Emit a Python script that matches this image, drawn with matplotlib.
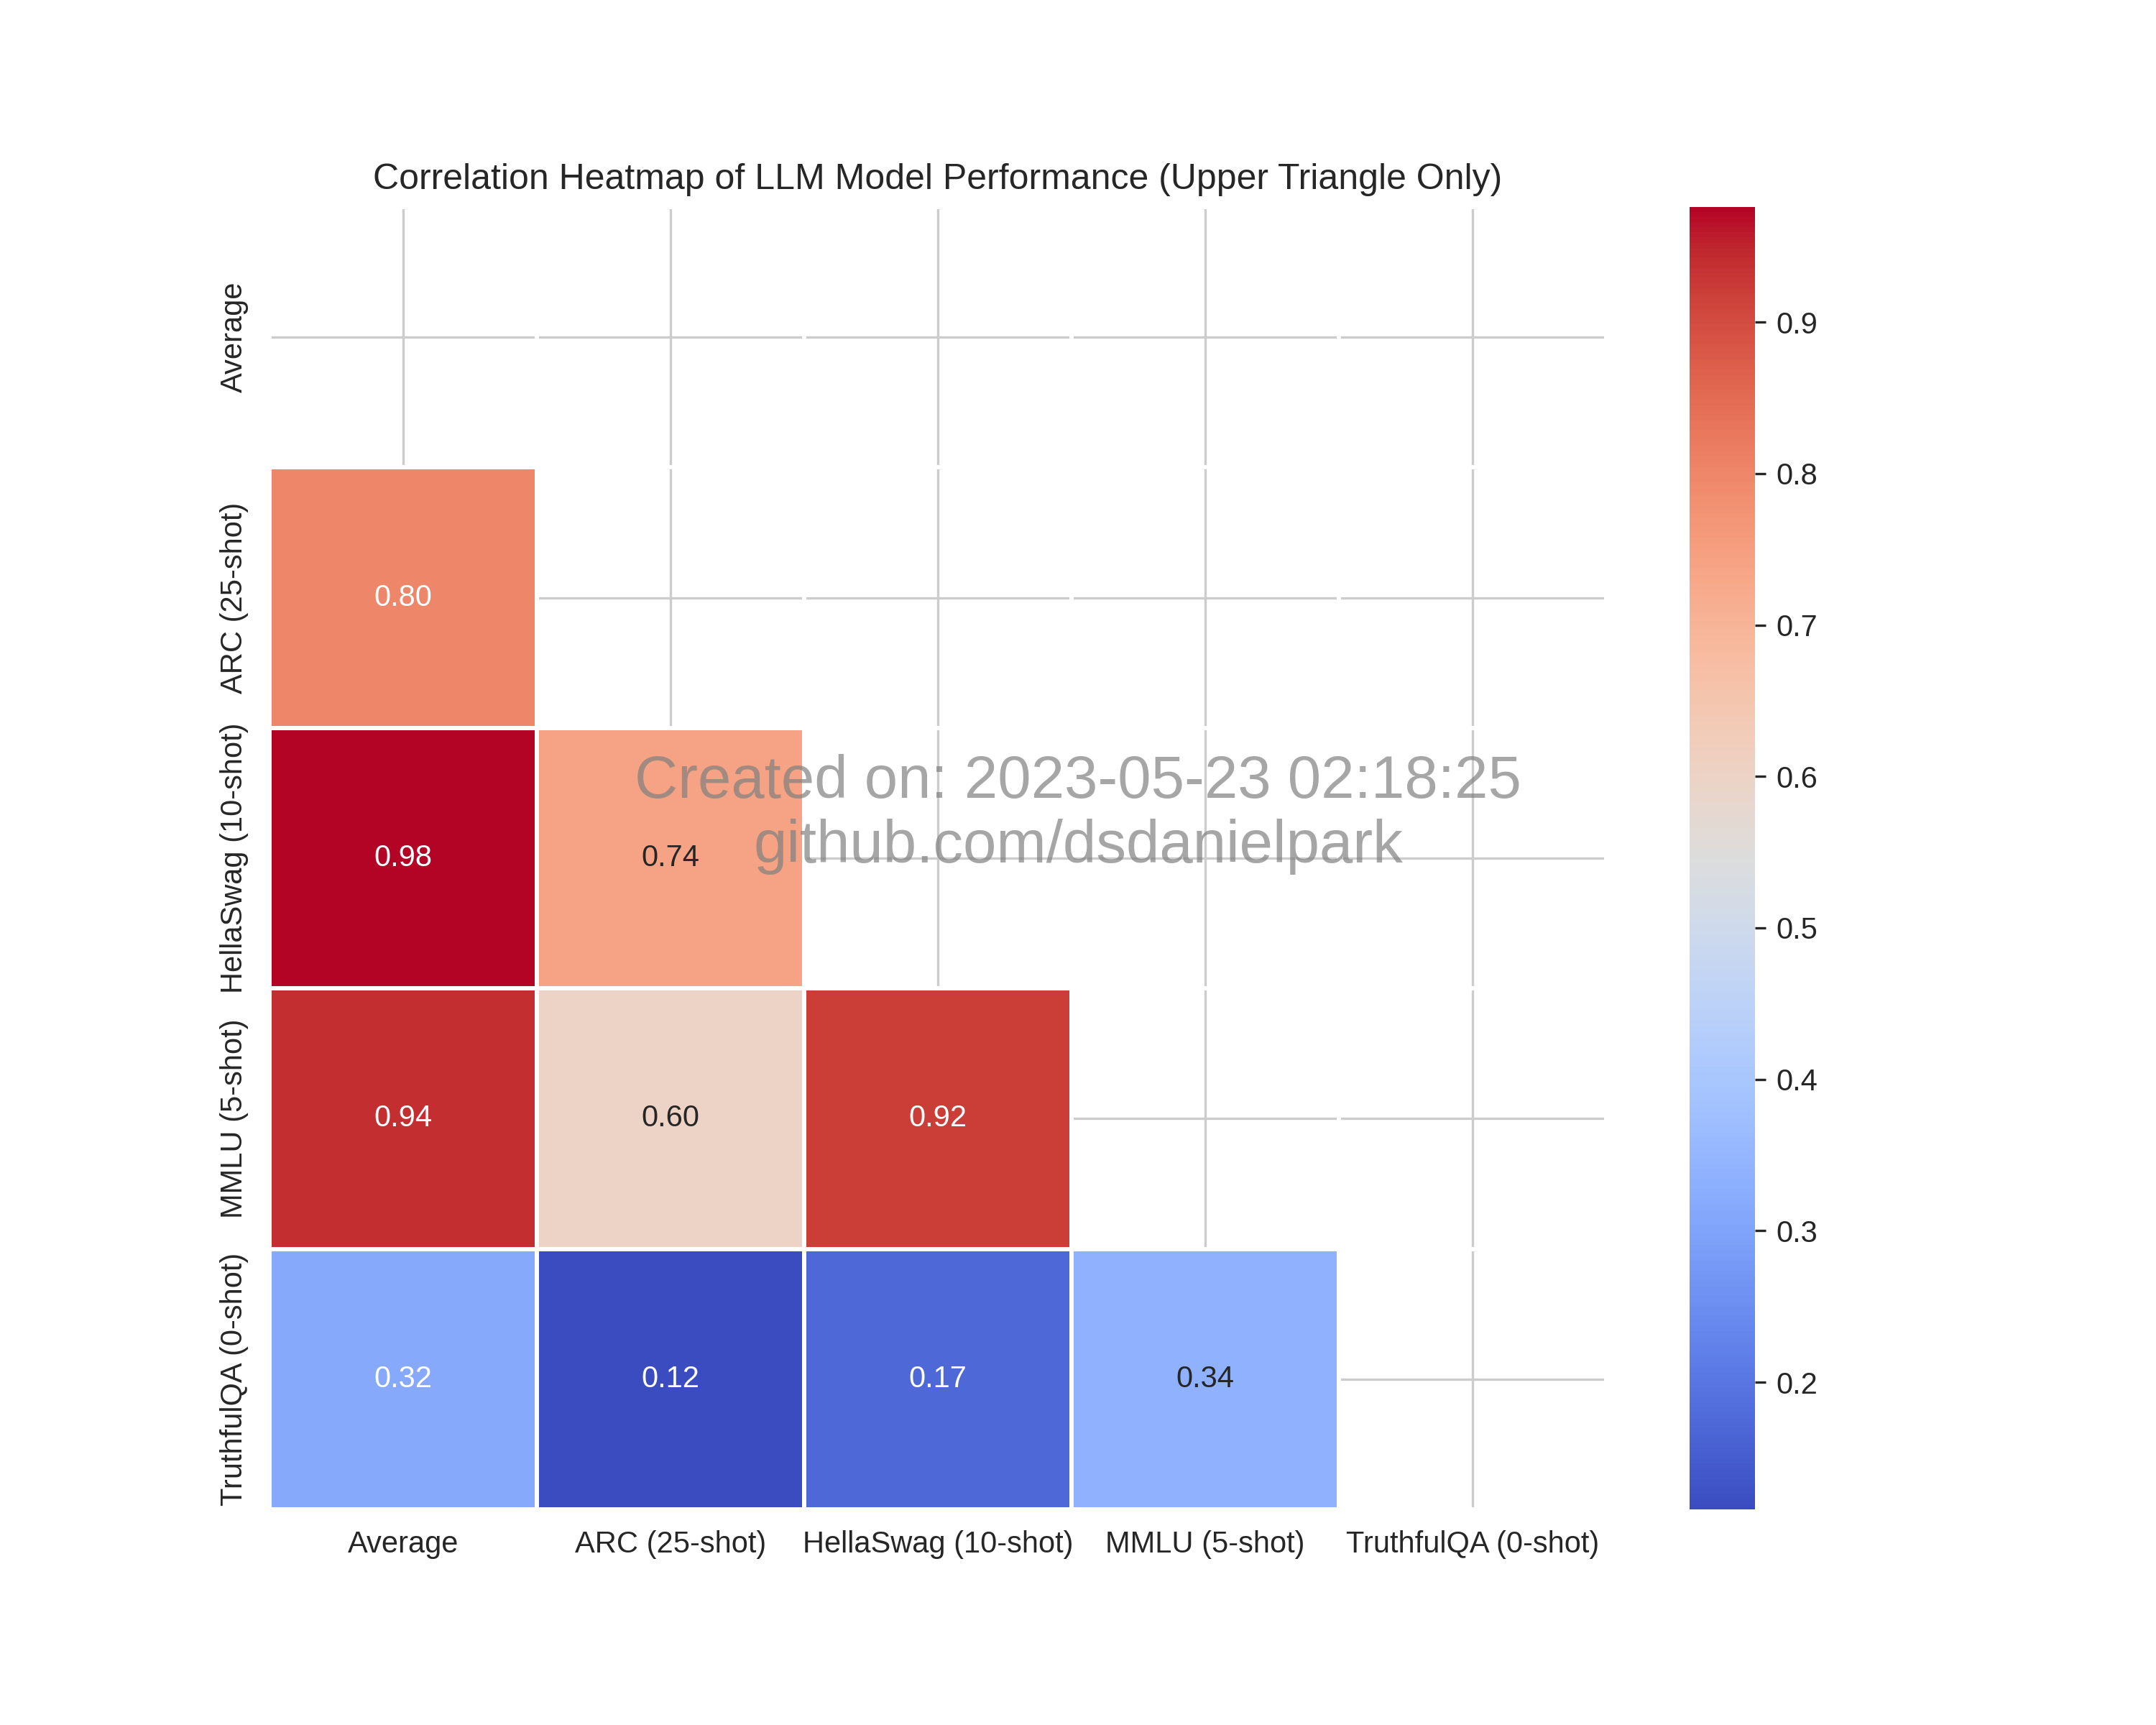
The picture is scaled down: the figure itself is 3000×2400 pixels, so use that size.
import numpy as np
import pandas as pd
import seaborn as sns
from matplotlib import pyplot as plt

# Benchmarks compared on the leaderboard
benchmarks = ['Average', 'ARC (25-shot)', 'HellaSwag (10-shot)', 'MMLU (5-shot)', 'TruthfulQA (0-shot)']

# Lower-triangle correlations, read row by row
corr_arc = [0.80]
corr_hellaswag = [0.976, 0.74]
corr_mmlu = [0.94, 0.60, 0.92]
corr_truthfulqa = [0.315, 0.116, 0.17, 0.34]

watermark = 'Created on: 2023-05-23 02:18:25\ngithub.com/dsdanielpark'

def build_matrix():
    rows = [corr_arc, corr_hellaswag, corr_mmlu, corr_truthfulqa]
    n = len(benchmarks)
    mat = np.eye(n)
    for i, row in enumerate(rows, start=1):
        for j, v in enumerate(row):
            mat[i, j] = v
            mat[j, i] = v
    return pd.DataFrame(mat, index=benchmarks, columns=benchmarks)

if __name__ == '__main__':
    sns.set_style('whitegrid')
    plt.rcParams['font.family'] = ['Liberation Sans', 'DejaVu Sans']

    corr = build_matrix()
    mask = np.triu(np.ones_like(corr, dtype=bool))

    fig = plt.figure(figsize=(10, 8), dpi=300)
    fig.subplots_adjust(bottom=0.125)
    ax = sns.heatmap(corr, mask=mask, annot=True, fmt='.2f', cmap='coolwarm', linewidths=1)
    ax.set_title('Correlation Heatmap of LLM Model Performance (Upper Triangle Only)')

    fig.text(0.5, 0.5, watermark, fontsize=20, color='gray', alpha=0.7, ha='center')

    fig.savefig('out.png', dpi=300)
